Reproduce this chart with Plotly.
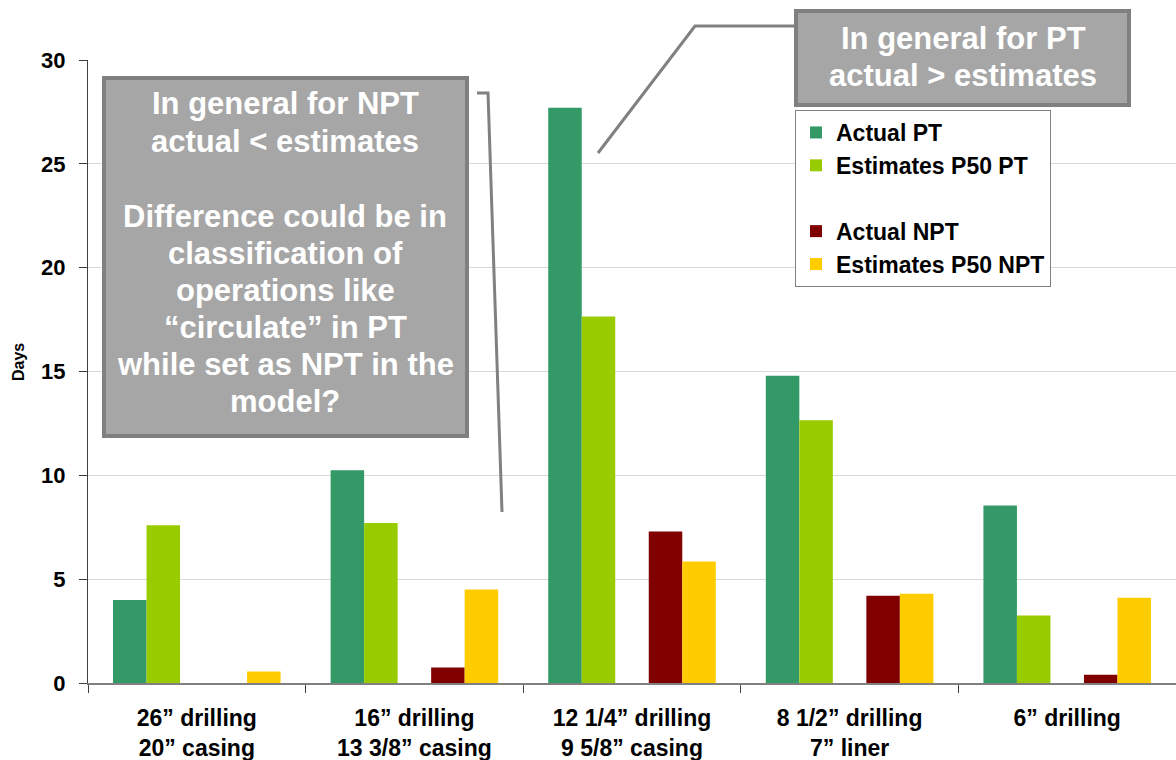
import plotly.graph_objects as go

categories = ["26” drilling<br>20” casing", "16” drilling<br>13 3/8” casing",
              "12 1/4” drilling<br>9 5/8” casing", "8 1/2” drilling<br>7” liner", "6” drilling"]
actual_pt = [4.0, 10.25, 27.7, 14.8, 8.55]
estimates_pt = [7.6, 7.7, 17.65, 12.65, 3.25]
blank = [None, None, None, None, None]
actual_npt = [0, 0.75, 7.3, 4.2, 0.4]
estimates_npt = [0.55, 4.5, 5.85, 4.3, 4.1]

W, H = 1176, 760
L, R, T, B = 88, 0, 60, 77
PW, PH = W - L - R, H - T - B

def px(x):
    return (x - L) / PW

def py(y):
    return (H - B - y) / PH

FONT = "Arial, 'Liberation Sans', sans-serif"

fig = go.Figure()
fig.add_bar(x=categories, y=actual_pt, name="Actual PT", marker_color="#339966")
fig.add_bar(x=categories, y=estimates_pt, name="Estimates P50 PT", marker_color="#99CC00")
fig.add_bar(x=categories, y=blank, name=" ", marker_color="rgba(0,0,0,0)")
fig.add_bar(x=categories, y=actual_npt, name="Actual NPT", marker_color="#800000")
fig.add_bar(x=categories, y=estimates_npt, name="Estimates P50 NPT", marker_color="#FFCC00")
fig.update_traces(marker_line_width=0, hoverinfo="skip")

shapes = []
shapes.append(dict(type="rect", xref="paper", yref="paper", x0=px(104), x1=px(467), y0=py(436), y1=py(78),
                   fillcolor="#a6a6a6", line=dict(color="#808080", width=4), layer="above"))
shapes.append(dict(type="rect", xref="paper", yref="paper", x0=px(796), x1=px(1129), y0=py(105), y1=py(11),
                   fillcolor="#a6a6a6", line=dict(color="#808080", width=4), layer="above"))
shapes.append(dict(type="path", xref="paper", yref="paper",
                   path=f"M {px(477)},{py(93)} L {px(488)},{py(93)} L {px(502)},{py(512)}",
                   line=dict(color="#808080", width=3), layer="above"))
shapes.append(dict(type="path", xref="paper", yref="paper",
                   path=f"M {px(795)},{py(26)} L {px(695)},{py(26)} L {px(598)},{py(153)}",
                   line=dict(color="#808080", width=3), layer="above"))

annotations = []
box1_lines = [("In general for NPT", 103), ("actual < estimates", 141),
              ("Difference could be in", 216), ("classification of", 253),
              ("operations like", 290), ("“circulate” in PT", 327),
              ("while set as NPT in the", 364), ("model?", 401)]
for txt, yy in box1_lines:
    annotations.append(dict(text=txt, xref="paper", yref="paper", x=px(285), y=py(yy),
                            xanchor="center", yanchor="middle", showarrow=False,
                            font=dict(family=FONT, size=31, color="white", weight="bold")))
box2_lines = [("In general for PT", 38), ("actual > estimates", 75)]
for txt, yy in box2_lines:
    annotations.append(dict(text=txt, xref="paper", yref="paper", x=px(963), y=py(yy),
                            xanchor="center", yanchor="middle", showarrow=False,
                            font=dict(family=FONT, size=31, color="white", weight="bold")))
annotations.append(dict(text="Days", xref="paper", yref="paper", x=px(19), y=py(362),
                        xanchor="center", yanchor="middle", showarrow=False, textangle=-90,
                        font=dict(family=FONT, size=16, color="black", weight="bold")))

fig.update_layout(
    width=W, height=H,
    margin=dict(l=L, r=R, t=T, b=B, autoexpand=False),
    paper_bgcolor="white", plot_bgcolor="white",
    barmode="group", bargap=0.23, bargroupgap=0,
    font=dict(family=FONT, size=20, color="black"),
    showlegend=True,
    legend=dict(x=px(795), y=py(110), xanchor="left", yanchor="top",
                bgcolor="white", bordercolor="#808080", borderwidth=1,
                font=dict(family=FONT, size=23, color="black", weight="bold"),
                traceorder="normal", itemwidth=30),
    shapes=shapes,
    annotations=annotations,
    xaxis=dict(type="category", showgrid=False, tickson="boundaries", ticks="outside",
               ticklen=8, tickcolor="#404040", showline=True, linecolor="#808080", linewidth=2,
               tickfont=dict(family=FONT, size=23, color="black", weight="bold"),
               ticklabelstandoff=13, automargin=False),
    yaxis=dict(range=[0, 30], dtick=5, showgrid=True, gridcolor="#d9d9d9", gridwidth=1,
               zeroline=False, showline=True, linecolor="#404040", linewidth=1,
               ticks="outside", ticklen=8, tickcolor="#404040",
               tickfont=dict(family=FONT, size=22, color="black", weight="bold"),
               ticklabelstandoff=9, automargin=False),
)

fig.write_html("out.html", config={"displayModeBar": False},
               post_script="document.body.style.margin='0';document.body.style.padding='0';")
